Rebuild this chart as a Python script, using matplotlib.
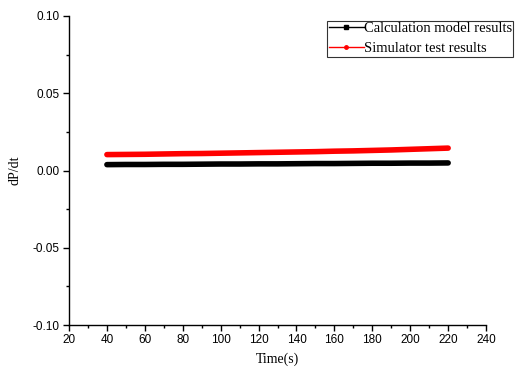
import numpy as np
import matplotlib.pyplot as plt
from matplotlib.lines import Line2D
from matplotlib.ticker import MultipleLocator

plt.rcParams['font.family'] = ['Liberation Sans', 'DejaVu Sans']

# values
time_s = [40, 50, 60, 70, 80, 90, 100, 110, 120, 130, 140, 150, 160, 170, 180, 190, 200, 210, 220]
calc_model = [0.0038, 0.0039, 0.0039, 0.0040, 0.0040, 0.0041, 0.0042, 0.0042, 0.0043, 0.0043,
              0.0044, 0.0045, 0.0045, 0.0046, 0.0047, 0.0047, 0.0048, 0.0048, 0.0049]
sim_test = [0.0103, 0.0104, 0.0105, 0.0107, 0.0109, 0.0110, 0.0112, 0.0114, 0.0116, 0.0118,
            0.0120, 0.0122, 0.0125, 0.0127, 0.0130, 0.0133, 0.0137, 0.0141, 0.0145]

fig = plt.figure(figsize=(5.16, 3.72), dpi=100)
ax = fig.add_axes([0.1337, 0.1263, 0.8083, 0.8307])

ax.plot(time_s, calc_model, color='black', linewidth=4.0, solid_capstyle='round')
ax.plot(time_s, sim_test, color='red', linewidth=4.0, solid_capstyle='round')

ax.set_xlim(20, 240)
ax.set_ylim(-0.10, 0.10)
ax.set_xticks(np.arange(20, 241, 20))
ax.set_yticks([-0.10, -0.05, 0.00, 0.05, 0.10])
ax.set_yticklabels(['-0.10', '-0.05', '0.00', '0.05', '0.10'])
ax.xaxis.set_minor_locator(MultipleLocator(10))
ax.yaxis.set_minor_locator(MultipleLocator(0.025))

for s in ['top', 'right']:
    ax.spines[s].set_visible(False)
for s in ['left', 'bottom']:
    ax.spines[s].set_linewidth(1.0)

ax.tick_params(which='major', direction='out', length=4, width=1, labelsize=8.5, pad=2.5)
ax.tick_params(which='minor', direction='out', length=2.5, width=1)

ax.set_xlabel('Time(s)', family='Liberation Serif', fontsize=10, labelpad=5)
ax.set_ylabel('dP/dt', family='Liberation Serif', fontsize=10, labelpad=8)

handles = [Line2D([], [], color='black', linewidth=1, marker='s', markersize=2.5),
           Line2D([], [], color='red', linewidth=1, marker='o', markersize=2.5)]
leg = ax.legend(handles, ['Calculation model results', 'Simulator test results'],
                loc='upper right', bbox_to_anchor=(1.065, 0.985),
                prop={'family': 'Liberation Serif', 'size': 10.5},
                frameon=True, fancybox=False, edgecolor='black',
                handlelength=2.4, handletextpad=0.0, borderpad=0.1,
                labelspacing=0.45, borderaxespad=0)
leg.get_frame().set_linewidth(0.8)

fig.savefig('out.png', dpi=100)
